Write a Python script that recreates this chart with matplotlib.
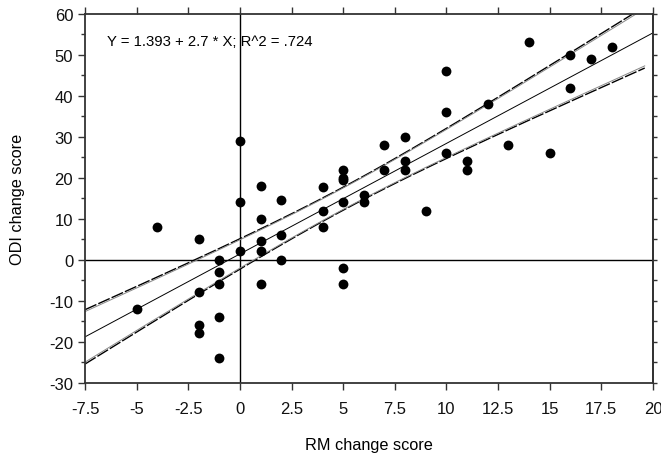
import numpy as np
import matplotlib
matplotlib.use("Agg")
import matplotlib.pyplot as plt
from matplotlib.ticker import MultipleLocator, NullFormatter

plt.rcParams['font.family'] = ['Liberation Sans', 'DejaVu Sans']
plt.rcParams['axes.unicode_minus'] = False

# RM change score vs ODI change score
rm = [-5, -4, -2, -2, -2, -2, -1, -1, -1, -1, -1, 0, 0, 0,
      1, 1, 1, 1, 1, 2, 2, 2, 4, 4, 4, 5, 5, 5, 5, 5, 5, 6, 6,
      7, 7, 8, 8, 8, 9, 10, 10, 10, 11, 11, 12, 13, 14, 15, 16, 16, 17, 18]
odi = [-12, 8, 5, -8, -16, -18, 0, -3, -6, -14, -24, 29, 14, 2,
       18, 10, 4.5, 2, -6, 14.6, 6, 0, 17.7, 11.8, 8, 22, 20, 19.4, 14, -2, -6, 15.8, 14,
       28, 22, 30, 24.2, 22, 11.8, 46, 36, 26, 24.2, 22, 38, 28, 53.2, 26, 50, 42, 49, 52]

intercept = 1.393
slope = 2.7
eq_text = "Y = 1.393 + 2.7 * X; R^2 = .724"

x = np.array(rm, dtype=float)
y = np.array(odi, dtype=float)
n = len(x)

fig = plt.figure(figsize=(6.61, 4.56), dpi=100)
ax = fig.add_axes([85 / 661, 1 - 383.5 / 456, 568 / 661, 368.5 / 456])

ax.set_xlim(-7.5, 20)
ax.set_ylim(-30, 60)

# zero reference lines
ax.axhline(0, color='black', lw=1.0, zorder=1)
ax.axvline(0, color='black', lw=1.0, zorder=1)

# fitted line and 95% confidence bands of the mean
xs = np.linspace(-7.5, 20, 200)
ax.plot(xs, intercept + slope * xs, color='black', lw=0.7, zorder=2)

resid = y - (intercept + slope * x)
s = np.sqrt(np.sum(resid ** 2) / (n - 2))
sxx = np.sum((x - x.mean()) ** 2)
xb = np.linspace(-7.5, 19.6, 200)
hw = 2.01 * s * np.sqrt(1 / n + (xb - x.mean()) ** 2 / sxx)
yb = intercept + slope * xb
for sign in (1, -1):
    ax.plot(xb, yb + sign * hw, color='black', lw=1.0, dashes=(9, 1.5), zorder=2)
    ax.plot(xb, yb + sign * hw * 0.93, color='#888888', lw=0.7, zorder=2)

ax.scatter(x, y, s=50, color='black', zorder=3, linewidths=0)

ax.text(0.0387, 0.927, eq_text, transform=ax.transAxes, fontsize=10.7,
        va='center', ha='left')

# ticks
ax.xaxis.set_major_locator(MultipleLocator(2.5))
ax.yaxis.set_major_locator(MultipleLocator(10))
ax.yaxis.set_minor_locator(MultipleLocator(5))
ax.xaxis.set_major_formatter(matplotlib.ticker.FuncFormatter(lambda v, p: f"{v:g}"))
ax.tick_params(axis='both', which='major', direction='out', length=5, width=1,
               labelsize=12, color='#333333', labelcolor='#111111')
ax.tick_params(axis='x', which='major', pad=8)
ax.tick_params(axis='y', which='minor', direction='out', length=3, width=1, color='#333333')
ax.tick_params(axis='x', top=True, labeltop=False)

right = ax.secondary_yaxis('right')
right.yaxis.set_major_locator(MultipleLocator(5))
right.yaxis.set_major_formatter(NullFormatter())
right.tick_params(direction='out', length=3, width=1, color='#333333')
right.spines['right'].set_color('#333333')
right.spines['right'].set_linewidth(1.3)

for sp in ax.spines.values():
    sp.set_color('#333333')
    sp.set_linewidth(1.3)

ax.set_xlabel("RM change score", fontsize=11.7, labelpad=15.5)
ax.set_ylabel("ODI change score", fontsize=11.7, labelpad=17)

fig.savefig("out.png", dpi=100)
